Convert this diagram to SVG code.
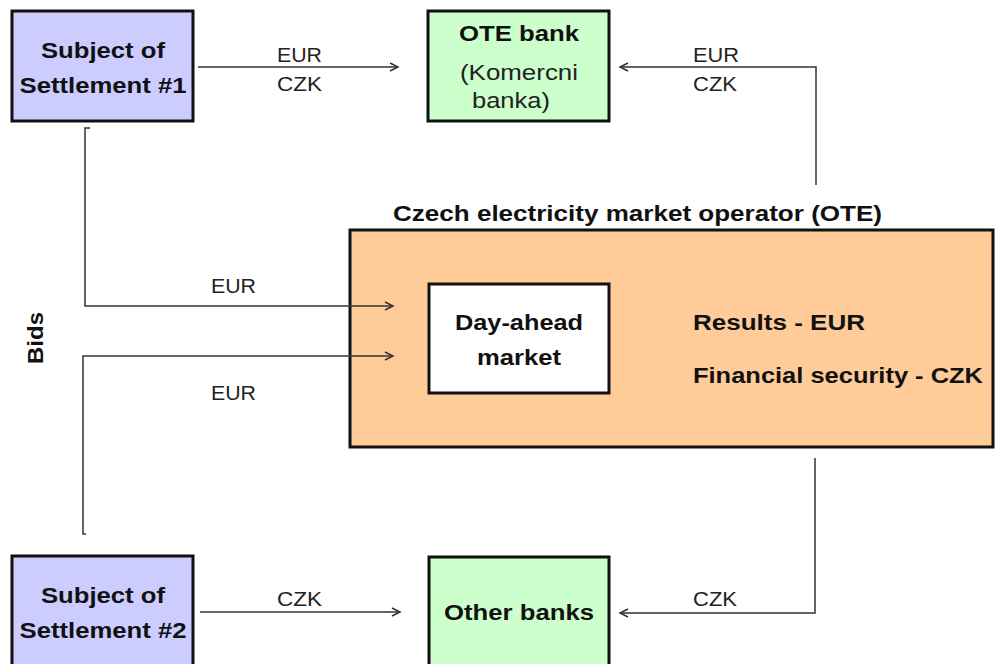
<svg xmlns="http://www.w3.org/2000/svg" width="996" height="664" viewBox="0 0 996 664">
<style>
  .box { stroke: #111; stroke-width: 3; }
  .subj { fill: #ccccff; }
  .bank { fill: #ccffcc; }
  .ote { fill: #ffcc99; }
  .mkt { fill: #ffffff; }
  .b { font-family: "Liberation Sans", Arial, sans-serif; font-weight: bold; font-size: 22px; fill: #111; }
  .r { font-family: "Liberation Sans", Arial, sans-serif; font-size: 20px; fill: #222; }
  .r22 { font-family: "Liberation Sans", Arial, sans-serif; font-size: 22px; fill: #222; }
  .c { text-anchor: middle; }
  .conn { fill: none; stroke: #333; stroke-width: 1.5; }
</style>
<defs>
  <marker id="arr" markerUnits="userSpaceOnUse" markerWidth="12" markerHeight="12" refX="9" refY="5" orient="auto">
    <path d="M1,1 L9,5 L1,9" fill="none" stroke="#333" stroke-width="1.5"/>
  </marker>
</defs>
<rect width="996" height="664" fill="#ffffff"/>

<g id="subject1">
  <rect class="box subj" x="12" y="11" width="181" height="110"/>
  <text class="b c" x="103" y="58" textLength="124" lengthAdjust="spacingAndGlyphs">Subject of</text>
  <text class="b c" x="103" y="93" textLength="167" lengthAdjust="spacingAndGlyphs">Settlement #1</text>
</g>

<g id="otebank">
  <rect class="box bank" x="428" y="11" width="181" height="110"/>
  <text class="b c" x="519" y="41" textLength="120" lengthAdjust="spacingAndGlyphs">OTE bank</text>
  <text class="r22 c" x="519" y="80" textLength="118" lengthAdjust="spacingAndGlyphs">(Komercni</text>
  <text class="r22 c" x="511" y="108" textLength="78" lengthAdjust="spacingAndGlyphs">banka)</text>
</g>

<g id="ote">
  <text class="b" x="393" y="221" textLength="489" lengthAdjust="spacingAndGlyphs">Czech electricity market operator (OTE)</text>
  <rect class="box ote" x="350" y="230" width="643" height="217"/>
  <text class="b" x="693" y="330" textLength="172" lengthAdjust="spacingAndGlyphs">Results - EUR</text>
  <text class="b" x="693" y="383" textLength="290" lengthAdjust="spacingAndGlyphs">Financial security - CZK</text>
</g>

<g id="dayahead">
  <rect class="box mkt" x="429" y="284" width="180" height="109"/>
  <text class="b c" x="519" y="330" textLength="128" lengthAdjust="spacingAndGlyphs">Day-ahead</text>
  <text class="b c" x="519" y="365" textLength="84" lengthAdjust="spacingAndGlyphs">market</text>
</g>

<g id="subject2">
  <rect class="box subj" x="12" y="556" width="181" height="112"/>
  <text class="b c" x="103" y="603" textLength="124" lengthAdjust="spacingAndGlyphs">Subject of</text>
  <text class="b c" x="103" y="638" textLength="167" lengthAdjust="spacingAndGlyphs">Settlement #2</text>
</g>

<g id="otherbanks">
  <rect class="box bank" x="429" y="557" width="180" height="111"/>
  <text class="b c" x="519" y="620" textLength="150" lengthAdjust="spacingAndGlyphs">Other banks</text>
</g>

<g id="bids">
  <text class="b c" transform="translate(43,338) rotate(-90)" x="0" y="0" textLength="52" lengthAdjust="spacingAndGlyphs">Bids</text>
</g>

<g id="connectors">
  <path class="conn" d="M198,67 H398" marker-end="url(#arr)"/>
  <path class="conn" d="M816,185 V67 H620" marker-end="url(#arr)"/>
  <path class="conn" d="M90,128 H85 V306 H393" marker-end="url(#arr)"/>
  <path class="conn" d="M86,534 H83 V356 H393" marker-end="url(#arr)"/>
  <path class="conn" d="M200,612 H400" marker-end="url(#arr)"/>
  <path class="conn" d="M815,458 V613 H620" marker-end="url(#arr)"/>
  <text class="r" x="277" y="62" textLength="45" lengthAdjust="spacingAndGlyphs">EUR</text>
  <text class="r" x="277" y="91" textLength="45" lengthAdjust="spacingAndGlyphs">CZK</text>
  <text class="r" x="693" y="62" textLength="46" lengthAdjust="spacingAndGlyphs">EUR</text>
  <text class="r" x="693" y="91" textLength="44" lengthAdjust="spacingAndGlyphs">CZK</text>
  <text class="r" x="211" y="293" textLength="45" lengthAdjust="spacingAndGlyphs">EUR</text>
  <text class="r" x="211" y="400" textLength="45" lengthAdjust="spacingAndGlyphs">EUR</text>
  <text class="r" x="277" y="606" textLength="45" lengthAdjust="spacingAndGlyphs">CZK</text>
  <text class="r" x="693" y="606" textLength="44" lengthAdjust="spacingAndGlyphs">CZK</text>
</g>
</svg>
